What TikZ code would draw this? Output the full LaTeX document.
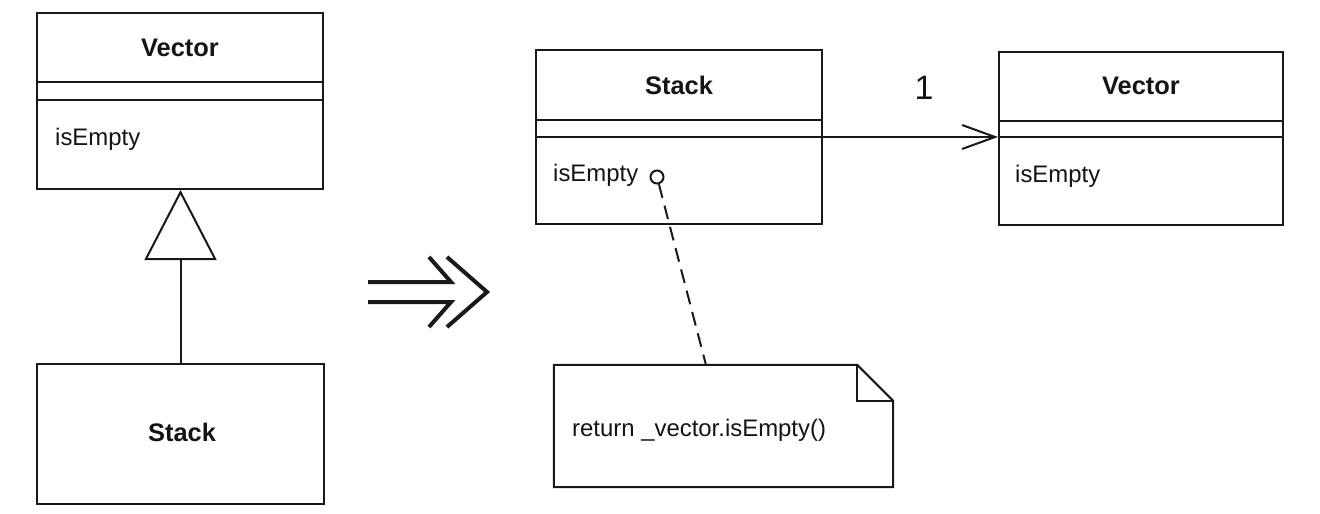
\documentclass[tikz,border=0pt]{standalone}
\usepackage{fontspec}
\setmainfont{Liberation Sans}
\usetikzlibrary{arrows.meta,calc}
\begin{document}
\begin{tikzpicture}[x=1bp,y=-1bp,
  ink/.style={draw=black!90, line width=2bp},
  classbox/.style={ink, rectangle, inner sep=0pt},
  titletext/.style={font=\fontsize{25.5}{30}\selectfont\bfseries, inner sep=0pt, text=black!92},
  opertext/.style={font=\fontsize{24}{28}\selectfont, anchor=west, inner sep=0pt, text=black!92},
  bigink/.style={draw=black!90, line width=4bp, line join=miter, line cap=butt},
]
\useasboundingbox[fill=white] (0,0) rectangle (1320,514);

% ---- left: Vector superclass
\node[classbox, minimum width=286bp, minimum height=176bp] (lv) at (180,101) {};
\draw[ink] ($(lv.north west)+(0,70)$) -- ($(lv.north east)+(0,70)$);
\draw[ink] ($(lv.north west)+(0,88)$) -- ($(lv.north east)+(0,88)$);
\node[titletext] (lvt) at (180,48) {Vector};
\node[opertext] (lvo) at (55,139) {isEmpty};

% ---- left: Stack subclass
\node[classbox, minimum width=287bp, minimum height=140bp] (ls) at (180.5,434) {};
\node[titletext] (lst) at (182,432.5) {Stack};

% generalization
\draw[ink, -{Triangle[open, length=70bp, width=72bp]}] (ls.north) -- (ls.north |- lv.south);

% ---- refactoring arrow
\draw[bigink] (368,282) -- (451,282) -- (429,257);
\draw[bigink] (368,302) -- (451,302) -- (429,327);
\draw[bigink] (447,257) -- (487,292) -- (447,327);

% ---- right: Stack
\node[classbox, minimum width=286bp, minimum height=174bp] (rs) at (679,137) {};
\draw[ink] ($(rs.north west)+(0,71)$) -- ($(rs.north east)+(0,71)$);
\draw[ink] ($(rs.north west)+(0,88)$) -- ($(rs.north east)+(0,88)$);
\node[titletext] (rst) at (679,85) {Stack};
\node[opertext] (rso) at (553,175) {isEmpty};
\node[ink, circle, minimum size=13bp, inner sep=0pt] (circ) at (657,177) {};

% ---- right: Vector
\node[classbox, minimum width=284bp, minimum height=173bp] (rv) at (1141,138.5) {};
\draw[ink] ($(rv.north west)+(0,70)$) -- ($(rv.north east)+(0,70)$);
\draw[ink] ($(rv.north west)+(0,86.5)$) -- ($(rv.north east)+(0,86.5)$);
\node[titletext] (rvt) at (1141,86) {Vector};
\node[opertext] (rvo) at (1015,176) {isEmpty};

% association
\coordinate (a1) at ($(rs.north east)+(0,88)$);
\draw[ink, -{Straight Barb[length=33bp, width=24bp]}] (a1) -- (a1 -| rv.west);
\node[font=\fontsize{34}{38}\selectfont, inner sep=0pt, text=black!92] (mult) at (924,88) {1};

% ---- note
\node[inner sep=0pt, minimum width=339bp, minimum height=122bp] (note) at (723.5,426) {};
\draw[ink, line join=miter] (note.north west) -- ($(note.north east)+(-36,0)$) -- ($(note.north east)+(0,36)$) -- (note.south east) -- (note.south west) -- cycle;
\draw[ink] ($(note.north east)+(-36,0)$) |- ($(note.north east)+(0,36)$);
\node[opertext] (notetext) at (572,430) {return \_vector.isEmpty()};
\coordinate (notein) at (706,365);
\draw[ink, dash pattern=on 14bp off 8bp] (circ) -- (notein);
\end{tikzpicture}
\end{document}
